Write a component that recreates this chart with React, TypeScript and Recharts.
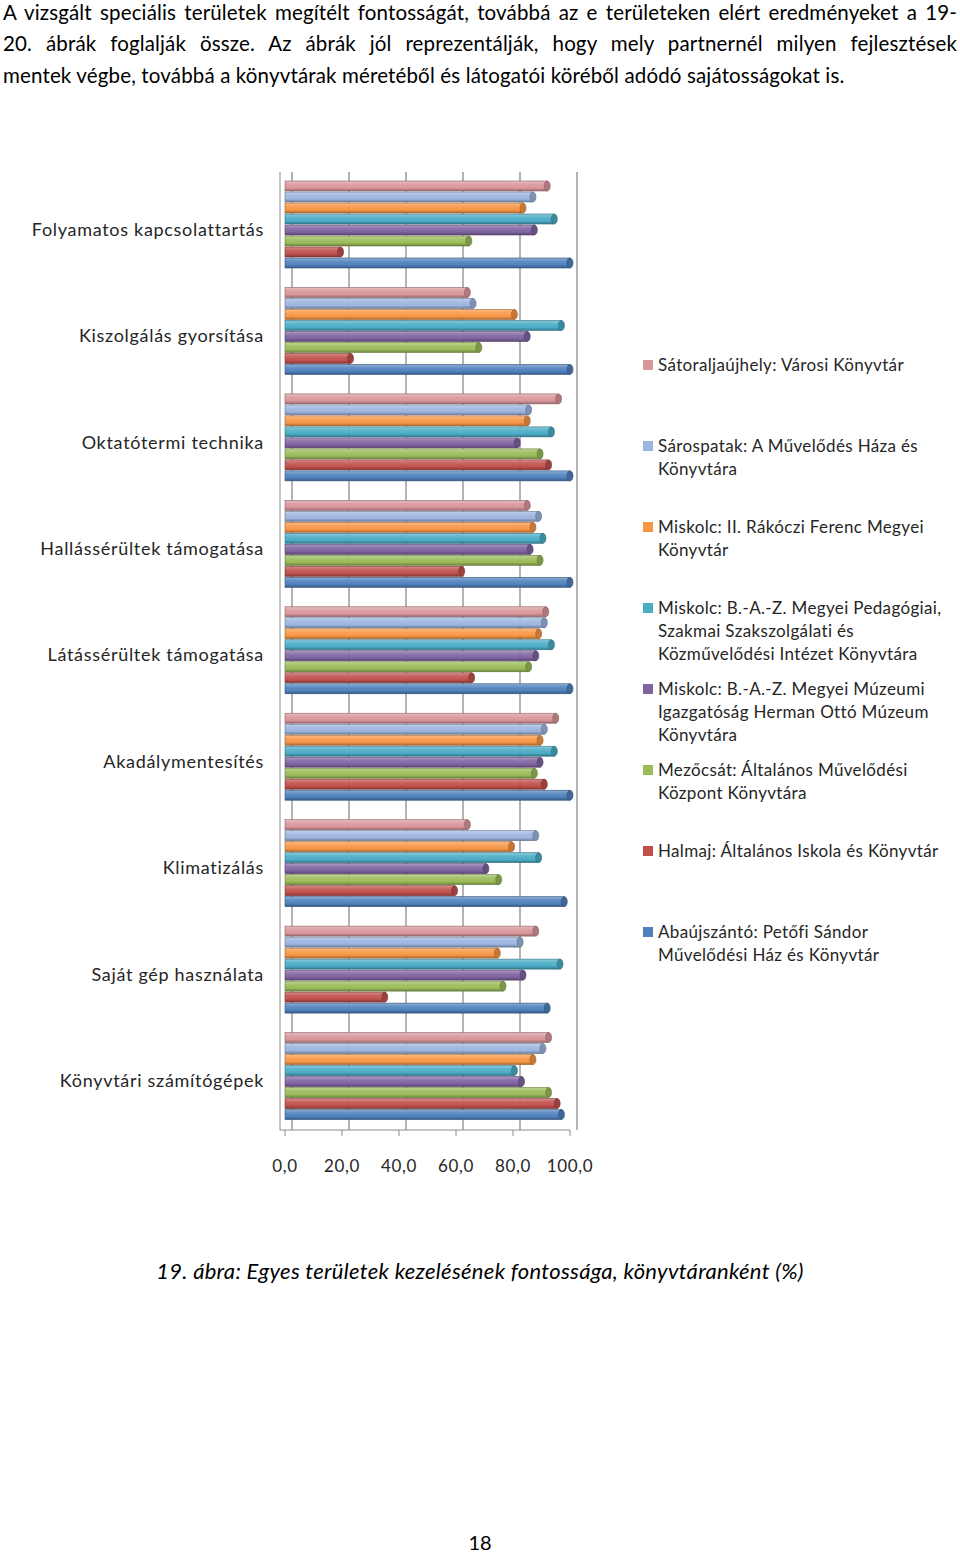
import React from "react";
import { BarChart, Bar, XAxis, YAxis, CartesianGrid, Legend } from "recharts";

const categories = [
  "Folyamatos kapcsolattartás",
  "Kiszolgálás gyorsítása",
  "Oktatótermi technika",
  "Hallássérültek támogatása",
  "Látássérültek támogatása",
  "Akadálymentesítés",
  "Klimatizálás",
  "Saját gép használata",
  "Könyvtári számítógépek",
];

const satoraljaujhely = [92, 64, 96, 85, 91.5, 95, 64, 88, 92.5];
const sarospatak = [87, 66, 85.5, 89, 91, 91, 88, 82.5, 90.5];
const miskolcRakoczi = [83.5, 80.5, 85, 87, 89, 89.5, 79.5, 74.5, 87];
const miskolcPedagogiai = [94.5, 97, 93.5, 90.5, 93.5, 94.5, 89, 96.5, 80.5];
const miskolcMuzeum = [87.5, 85, 81.5, 86, 88, 89.5, 70.5, 83.5, 83];
const mezocsat = [64.5, 68, 89.5, 89.5, 85.5, 87.5, 75, 76.5, 92.5];
const halmaj = [19.5, 23, 92.5, 62, 65.5, 91, 59.5, 35, 95.5];
const abaujszanto = [100, 100, 100, 100, 100, 100, 98, 92, 97];

const xTicks = [0, 20, 40, 60, 80, 100];

const seriesKeys = ["s1", "s2", "s3", "s4", "s5", "s6", "s7", "s8"];
const seriesValues = [
  satoraljaujhely,
  sarospatak,
  miskolcRakoczi,
  miskolcPedagogiai,
  miskolcMuzeum,
  mezocsat,
  halmaj,
  abaujszanto,
];
const seriesLabelLines = [
  ["Sátoraljaújhely: Városi Könyvtár"],
  ["Sárospatak: A Művelődés Háza és", "Könyvtára"],
  ["Miskolc: II. Rákóczi Ferenc Megyei", "Könyvtár"],
  ["Miskolc: B.-A.-Z. Megyei Pedagógiai,", "Szakmai Szakszolgálati és", "Közművelődési Intézet Könyvtára"],
  ["Miskolc: B.-A.-Z. Megyei Múzeumi", "Igazgatóság Herman Ottó Múzeum", "Könyvtára"],
  ["Mezőcsát: Általános Művelődési", "Központ Könyvtára"],
  ["Halmaj: Általános Iskola és Könyvtár"],
  ["Abaújszántó: Petőfi Sándor", "Művelődési Ház és Könyvtár"],
];
const seriesColors = [
  "#D9969B",
  "#9DB5E0",
  "#F79646",
  "#4BACC6",
  "#8064A2",
  "#9BBB59",
  "#C0504D",
  "#4F81BD",
];

const data = categories.map((c, i) => {
  const row: Record<string, any> = { name: c };
  seriesKeys.forEach((k, j) => {
    row[k] = seriesValues[j][i];
  });
  return row;
});

const FONT = "Lato, 'Open Sans', sans-serif";

function shade(hex: string, amt: number) {
  const n = parseInt(hex.slice(1), 16);
  let r = (n >> 16) & 255, g = (n >> 8) & 255, b = n & 255;
  if (amt >= 0) {
    r = r + (255 - r) * amt; g = g + (255 - g) * amt; b = b + (255 - b) * amt;
  } else {
    r = r * (1 + amt); g = g * (1 + amt); b = b * (1 + amt);
  }
  return `rgb(${Math.round(r)},${Math.round(g)},${Math.round(b)})`;
}

const CylBar = (props: any) => {
  const { x, y, width, height, fill, gid } = props;
  if (!width || width <= 0) return null;
  const cap = 3;
  const dark = shade(fill, -0.35);
  return (
    <g>
      <rect x={x} y={y} width={width} height={height} fill={`url(#${gid})`} stroke={dark} strokeWidth={0.6} />
      <ellipse cx={x + width} cy={y + height / 2} rx={cap} ry={height / 2} fill={shade(fill, -0.2)} stroke={dark} strokeWidth={0.6} />
    </g>
  );
};

const LegendContent = () => (
  <div style={{ fontFamily: FONT, fontSize: 17, letterSpacing: 0.35, color: "#262626" }}>
    {seriesLabelLines.map((lines, i) => (
      <div key={i} style={{ height: 81, position: "relative" }}>
        <div
          style={{
            position: "absolute",
            left: 3,
            top: 7,
            width: 10,
            height: 10,
            background: seriesColors[i],
          }}
        />
        <div style={{ position: "absolute", left: 18, top: 0, lineHeight: "23px", whiteSpace: "nowrap" }}>
          {lines.map((l, k) => (
            <div key={k}>{l}</div>
          ))}
        </div>
      </div>
    ))}
  </div>
);

const paraLine: React.CSSProperties = {
  position: "absolute",
  left: 3,
  width: 954,
  fontSize: 20.5,
  letterSpacing: 0.15,
  lineHeight: "24px",
  whiteSpace: "nowrap",
  color: "#000",
};

export default function App() {
  return (
    <div
      style={{
        position: "absolute",
        left: 0,
        top: 0,
        width: 960,
        height: 1553,
        background: "#fff",
        fontFamily: FONT,
        overflow: "hidden",
      }}
    >
      <div style={{ ...paraLine, top: 0, textAlign: "justify", textAlignLast: "justify" as any, whiteSpace: "normal" }}>
        A vizsgált speciális területek megítélt fontosságát, továbbá az e területeken elért eredményeket a 19-
      </div>
      <div style={{ ...paraLine, top: 31, textAlign: "justify", textAlignLast: "justify" as any, whiteSpace: "normal" }}>
        20. ábrák foglalják össze. Az ábrák jól reprezentálják, hogy mely partnernél milyen fejlesztések
      </div>
      <div style={{ ...paraLine, top: 63 }}>
        mentek végbe, továbbá a könyvtárak méretéből és látogatói köréből adódó sajátosságokat is.
      </div>

      <div style={{ position: "absolute", left: 0, top: 0 }}>
        <BarChart
          width={960}
          height={1200}
          data={data}
          layout="vertical"
          margin={{ top: 172, right: 390, bottom: 30, left: 0 }}
          barCategoryGap={9}
          barGap={1}
        >
          <defs>
            {seriesColors.map((c, i) => (
              <linearGradient key={i} id={`g${i}`} x1="0" y1="0" x2="0" y2="1">
                <stop offset="0%" stopColor={shade(c, 0.35)} />
                <stop offset="35%" stopColor={shade(c, 0.1)} />
                <stop offset="70%" stopColor={c} />
                <stop offset="100%" stopColor={shade(c, -0.3)} />
              </linearGradient>
            ))}
          </defs>
          <CartesianGrid
            horizontal={false}
            stroke="#8c8c8c"
            strokeWidth={1.3}
            verticalCoordinatesGenerator={({ offset }: any) =>
              xTicks.map((v) => offset.left + 5 + (v / 100) * (offset.width - 5) + 7)
            }
          />
          <XAxis
            type="number"
            domain={[0, 100]}
            ticks={xTicks}
            padding={{ left: 5, right: 0 }}
            height={40}
            tickFormatter={(v: number) => v.toFixed(1).replace(".", ",")}
            tick={{ fill: "#262626", fontSize: 17, fontFamily: FONT, letterSpacing: 0.6 }}
            tickSize={6}
            tickMargin={24}
            stroke="#8c8c8c"
          />
          <YAxis
            type="category"
            dataKey="name"
            width={280}
            tickLine={false}
            tickMargin={10}
            tick={{ fill: "#262626", fontSize: 18, fontFamily: FONT, letterSpacing: 0.7, dy: 4 }}
            stroke="#8c8c8c"
          />
          <Legend
            layout="horizontal"
            verticalAlign="middle"
            align="center"
            content={() => <LegendContent />}
            wrapperStyle={{ left: 640, top: 353, width: 310, height: 660 }}
          />
          {seriesKeys.map((k, i) => (
            <Bar
              key={k}
              dataKey={k}
              name={seriesLabelLines[i].join(" ")}
              fill={seriesColors[i]}
              isAnimationActive={false}
              shape={(p: any) => <CylBar {...p} fill={seriesColors[i]} gid={`g${i}`} />}
            />
          ))}
        </BarChart>
      </div>

      <div
        style={{
          position: "absolute",
          left: 0,
          width: 960,
          top: 1257,
          textAlign: "center",
          fontStyle: "italic",
          fontSize: 22,
          letterSpacing: 0.3,
          color: "#000",
        }}
      >
        19. ábra: Egyes területek kezelésének fontossága, könyvtáranként (%)
      </div>
      <div
        style={{
          position: "absolute",
          left: 0,
          width: 960,
          top: 1530,
          textAlign: "center",
          fontSize: 20,
          color: "#000",
        }}
      >
        18
      </div>
    </div>
  );
}
